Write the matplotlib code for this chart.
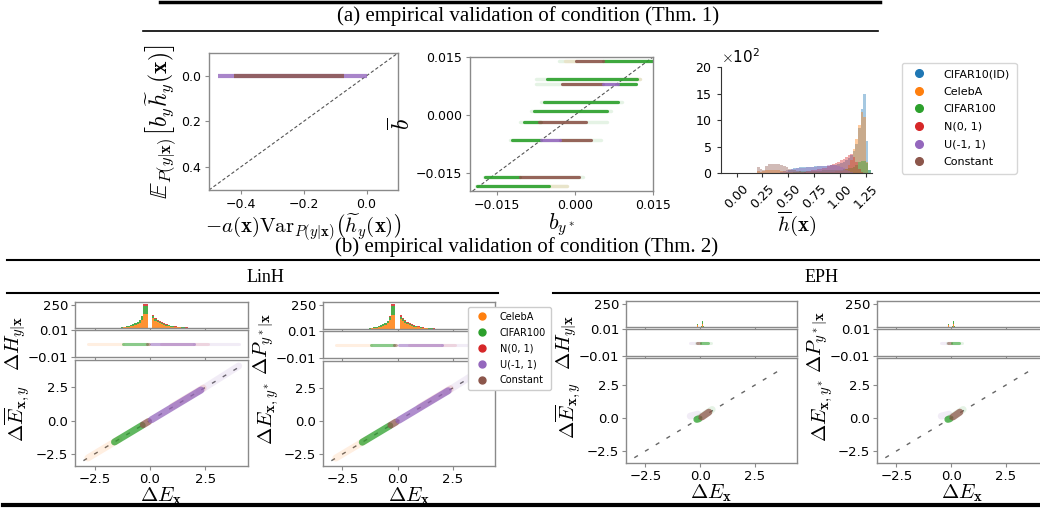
import numpy as np
import matplotlib
matplotlib.use('Agg')
import matplotlib.pyplot as plt
from matplotlib.lines import Line2D

plt.rcParams['mathtext.fontset'] = 'cm'
plt.rcParams['font.family'] = ['DejaVu Sans']

W, H = 1040, 508

# ---------------- data ----------------
datasets_a = ['CIFAR10(ID)', 'CelebA', 'CIFAR100', 'N(0, 1)', 'U(-1, 1)', 'Constant']
datasets_b = ['CelebA', 'CIFAR100', 'N(0, 1)', 'U(-1, 1)', 'Constant']
colors = ['#1f77b4', '#ff7f0e', '#2ca02c', '#d62728', '#9467bd', '#8c564b']
col = dict(zip(datasets_a, colors))

# (a1) bands at y=0: dataset, y, x0, x1
a1_bands = [('U(-1, 1)', 0.0, -0.47, 0.0), ('Constant', 0.0, -0.42, -0.07)]

# (a2) bands: dataset, y, x0, x1
a2_faint = [
    ('CIFAR100', 0.0139, -0.0030, 0.0149), ('CIFAR100', 0.0093, -0.0075, 0.0125),
    ('CIFAR100', 0.0081, -0.0075, 0.0117), ('CIFAR100', 0.0033, -0.0065, 0.0090),
    ('CIFAR100', 0.0009, -0.0085, 0.0070), ('CIFAR100', -0.0019, -0.0105, 0.0062),
    ('CIFAR100', -0.0065, -0.0125, 0.0050), ('CIFAR100', -0.0160, -0.0175, 0.0015),
    ('CIFAR100', -0.0184, -0.0190, -0.0015), ('CelebA', 0.0093, 0.0105, 0.0125),
    ('CelebA', -0.0184, -0.0050, -0.0015), ('CelebA', 0.0139, -0.0020, 0.0001),
]
a2_core = [
    ('CIFAR100', 0.0139, 0.0053, 0.0149), ('CIFAR100', 0.0093, -0.0054, 0.0120),
    ('CIFAR100', 0.0081, 0.0082, 0.0117), ('CIFAR100', 0.0033, -0.0060, 0.0082),
    ('CIFAR100', 0.0009, -0.0079, 0.0062), ('CIFAR100', -0.0019, -0.0099, -0.0066),
    ('CIFAR100', -0.0065, -0.0121, -0.0066), ('CIFAR100', -0.0160, -0.0173, -0.0105),
    ('CIFAR100', -0.0184, -0.0189, -0.0050),
    ('Constant', 0.0139, 0.0001, 0.0053), ('Constant', 0.0081, -0.0025, 0.0053),
    ('Constant', -0.0019, -0.0069, 0.0021), ('Constant', -0.0065, -0.0028, 0.0030),
    ('Constant', -0.0160, -0.0105, 0.0008),
    ('U(-1, 1)', 0.0081, 0.0053, 0.0082), ('U(-1, 1)', -0.0065, -0.0066, -0.0028),
]

# (a3) histogram of h-bar: bin edges 0.15..1.30 (width 0.025)
a3_edges = np.round(np.linspace(0.15, 1.30, 47), 4)
a3_counts = {
    'CIFAR10(ID)': [0]*13 + [20, 60, 80, 90, 100, 105, 110, 110, 115, 120, 120, 125, 125, 130, 130,
                             135, 140, 145, 150, 160, 170, 190, 210, 240, 280, 340, 420, 550, 850,
                             1200, 1500, 600, 50],
    'CelebA': [0, 0, 30, 20, 30, 50, 60, 60, 55, 50, 50, 45, 35,
               25, 20, 15, 10, 10, 10, 10, 10, 10, 10, 10, 10, 15, 15, 15, 20, 20, 20, 25, 30, 35, 45, 60,
               80, 150, 250, 450, 650, 900, 1150, 1050, 200, 0],
    'CIFAR100': [0]*16 + [20, 25, 30, 30, 35, 35, 40, 40, 40, 45, 45, 50, 50, 50, 55, 55, 60, 60, 65,
                          70, 75, 85, 100, 120, 150, 200, 220, 220, 180, 50],
    'N(0, 1)': [0]*20 + [20, 30, 40, 50, 60, 70, 80, 90, 100, 130, 150, 170, 190, 210, 240, 270, 300,
                         340, 350, 300, 200, 80, 20, 0, 0, 0],
    'U(-1, 1)': [0]*11 + [20, 30, 50, 60, 70, 80, 85, 90, 95, 100, 105, 110, 115, 120, 125, 130, 135,
                          140, 145, 150, 150, 145, 140, 120, 90, 60, 30, 10] + [0]*7,
    'Constant': [0, 0, 110, 70, 60, 130, 170, 175, 170, 165, 175, 160, 140, 110, 80, 60, 50, 40, 30,
                 20, 10, 5] + [0]*24,
}

# (b) LinH stacked histogram of dE_x (bins -1.6..2.6, width 0.1)
linh_edges = np.round(np.linspace(-1.6, 2.6, 43), 2)
linh_hist = {
    'CelebA': [1, 2, 3, 5, 7, 10, 14, 19, 25, 32, 45, 60, 90, 150, 150, 0, 0,
               105, 80, 62, 50, 40, 32, 26, 20, 16, 13, 10, 8, 6, 5, 4, 3, 2, 2, 1, 1, 1, 0, 0, 0, 0],
    'CIFAR100': [0, 1, 2, 3, 5, 7, 9, 12, 15, 18, 20, 25, 40, 95, 95, 0, 0,
                 25, 22, 18, 15, 13, 11, 9, 8, 6, 5, 4, 3, 3, 2, 2, 1, 1, 1, 1, 0, 0, 0, 0, 0, 0],
    'N(0, 1)': [0, 0, 0, 1, 1, 1, 1, 2, 2, 3, 3, 4, 5, 15, 15, 0, 0,
                15, 13, 11, 10, 9, 8, 7, 6, 5, 4, 4, 3, 3, 2, 2, 2, 1, 1, 1, 1, 1, 1, 0, 0, 0],
}
linh_strip_faint = [('CelebA', -2.8, -1.2), ('N(0, 1)', 0.5, 2.6), ('U(-1, 1)', 2.0, 4.0)]
linh_strip_core = [('CIFAR100', -1.2, -0.15), ('Constant', -0.15, -0.06), ('U(-1, 1)', 0.06, 2.0)]
# main scatter: dataset, x0, y0, x1, y1
linh_main_faint = [('CelebA', -2.8, -2.8, -1.4, -1.4), ('U(-1, 1)', 2.2, 2.2, 4.0, 4.1),
                   ('N(0, 1)', 1.0, 1.05, 2.4, 2.45)]
linh_main_core = [('CIFAR100', -1.6, -1.6, -0.35, -0.35), ('Constant', -0.3, -0.3, -0.06, -0.06),
                  ('U(-1, 1)', 0.06, 0.06, 2.3, 2.3)]
linh_diag = [-3.0, 4.2]

# (b) EPH
eph_edges = np.round(np.linspace(-0.2, 0.25, 10), 3)
eph_hist = {
    'CelebA': [0, 20, 0, 0, 0, 0, 30, 0, 0],
    'CIFAR100': [0, 10, 0, 0, 0, 15, 35, 10, 0],
    'N(0, 1)': [0, 5, 0, 0, 0, 0, 5, 0, 0],
}
eph_strip_faint = [('U(-1, 1)', -0.45, -0.15), ('CIFAR100', -0.2, 0.5)]
eph_strip_core = [('Constant', -0.12, -0.02), ('CIFAR100', 0.05, 0.35)]
eph_main_faint = [('U(-1, 1)', -0.45, 0.15, -0.1, 0.3), ('CIFAR100', -0.1, -0.05, 0.55, 0.65)]
eph_main_core = [('CIFAR100', -0.15, -0.1, -0.05, -0.05), ('Constant', 0.08, 0.08, 0.4, 0.45)]
eph_diag = [-3.0, 3.8]

# ---------------- figure ----------------
fig = plt.figure(figsize=(W / 100, H / 100), dpi=100)
SP = '#8a8a8a'


def add_ax(l, t, r, b):
    return fig.add_axes([l / W, 1 - b / H, (r - l) / W, (b - t) / H])


def style(ax, fs=9, pad=3):
    for s in ax.spines.values():
        s.set_color(SP)
        s.set_linewidth(1.0)
    ax.tick_params(labelsize=fs, color=SP, length=3, width=0.8, pad=pad)


def hline(x0, x1, y, lw):
    fig.add_artist(Line2D([x0 / W, x1 / W], [1 - y / H, 1 - y / H], color='black', lw=lw,
                          transform=fig.transFigure))


# titles and rules
fig.text(528 / W, 1 - 16 / H, '(a) empirical validation of condition (Thm. 1)', ha='center',
         va='center', fontsize=15, family='Liberation Serif')
fig.text(527 / W, 1 - 247 / H, '(b) empirical validation of condition (Thm. 2)', ha='center',
         va='center', fontsize=15, family='Liberation Serif')
fig.text(265 / W, 1 - 278 / H, 'LinH', ha='center', va='center', fontsize=13, family='Liberation Serif')
fig.text(822 / W, 1 - 278 / H, 'EPH', ha='center', va='center', fontsize=13, family='Liberation Serif')
hline(160, 880, 1.5, 2.5)
hline(143, 878, 31, 1.2)
hline(7, 1040, 260, 1.5)
hline(7, 498, 292.5, 1.5)
hline(553, 1040, 292.5, 1.5)
hline(3, 1040, 504.5, 3.0)

LABFS = 15

# ---- (a1)
ax1 = add_ax(209, 53, 398, 190)
style(ax1)
ax1.axline((0, 0), slope=-1, color='#555555', ls='--', lw=0.8, dashes=(3, 2))
for name, y, x0, x1 in a1_bands:
    ax1.plot([x0, x1], [y, y], color=col[name], lw=3, alpha=0.8, solid_capstyle='butt')
ax1.set_xlim(-0.5, 0.1)
ax1.set_ylim(0.5, -0.1)
ax1.set_xticks([-0.4, -0.2, 0.0])
ax1.set_yticks([0.0, 0.2, 0.4])
ax1.set_xticklabels(['\u22120.4', '\u22120.2', '0.0'])
ax1.set_xlabel(r'$-a(\mathbf{x})\mathrm{Var}_{P(y|\mathbf{x})}\left(\widetilde{h}_y(\mathbf{x})\right)$',
               fontsize=LABFS, labelpad=0)
ax1.set_ylabel(r'$\mathbb{E}_{P(y|\mathbf{x})}\left[b_y\widetilde{h}_y(\mathbf{x})\right]$',
               fontsize=17, labelpad=1)

# ---- (a2)
ax2 = add_ax(470, 57, 653, 191)
style(ax2)
ax2.axline((0, 0), slope=1, color='#555555', ls='--', lw=0.8, dashes=(3, 2))
for name, y, x0, x1 in a2_faint:
    ax2.plot([x0, x1], [y, y], color=col[name], lw=2.5, alpha=0.12, solid_capstyle='round')
for name, y, x0, x1 in a2_core:
    ax2.plot([x0, x1], [y, y], color=col[name], lw=2.3, alpha=0.9, solid_capstyle='round')
ax2.set_xlim(-0.0202, 0.015)
ax2.set_ylim(-0.0197, 0.015)
ax2.set_xticks([-0.015, 0.0, 0.015])
ax2.set_yticks([-0.015, 0.0, 0.015])
ax2.set_xticklabels(['\u22120.015', '0.000', '0.015'])
ax2.set_yticklabels(['\u22120.015', '0.000', '0.015'])
ax2.set_xlabel(r'$b_{y^*}$', fontsize=LABFS + 1, labelpad=-1)
ax2.set_ylabel(r'$\overline{b}$', fontsize=LABFS + 2, labelpad=0)

# ---- (a3)
ax3 = add_ax(721, 67, 872, 173)
for name in datasets_a:
    ax3.stairs(a3_counts[name], a3_edges, fill=True, color=col[name], alpha=0.4, lw=0)
for s in ['top', 'right']:
    ax3.spines[s].set_visible(False)
for s in ['left', 'bottom']:
    ax3.spines[s].set_color('#333333')
ax3.tick_params(labelsize=9, length=3, color='#333333')
ax3.set_xlim(-0.15, 1.31)
ax3.set_ylim(0, 2000)
ax3.set_yticks([0, 500, 1000, 1500, 2000])
ax3.set_xticks([0.0, 0.25, 0.5, 0.75, 1.0, 1.25])
ax3.ticklabel_format(axis='y', style='sci', scilimits=(2, 2), useMathText=True)
ax3.yaxis.get_offset_text().set_fontsize(11)
plt.setp(ax3.get_xticklabels(), rotation=45, ha='center', rotation_mode='default')
ax3.set_xlabel(r'$\overline{h}(\mathbf{x})$', fontsize=LABFS, labelpad=-1)

handles_a = [Line2D([], [], marker='o', ls='', color=col[n], markersize=5.5) for n in datasets_a]
fig.legend(handles_a, datasets_a, loc='upper left', bbox_to_anchor=(896 / W, 1 - 57 / H),
           fontsize=8, frameon=True, edgecolor='#cccccc', handletextpad=1.2, borderpad=0.6,
           labelspacing=0.68)


# ---- (b)
def b_panel(l, r, yh, ys, ym, hist_edges, hist, strip_faint, strip_core, main_faint, main_core,
            diag, ylab_s, ylab_m):
    axh = add_ax(l, yh[0], r, yh[1])
    axs = add_ax(l, ys[0], r, ys[1])
    axm = add_ax(l, ym[0], r, ym[1])
    base = np.zeros(len(hist_edges) - 1)
    for name in ['CelebA', 'CIFAR100', 'N(0, 1)']:
        vals = np.asarray(hist[name], dtype=float)
        axh.stairs(base + vals, hist_edges, baseline=base, fill=True, color=col[name], alpha=0.85, lw=0)
        base = base + vals
    for name, x0, x1 in strip_faint:
        axs.plot([x0, x1], [0, 0], color=col[name], lw=2.2, alpha=0.12, solid_capstyle='round')
    for name, x0, x1 in strip_core:
        axs.plot([x0, x1], [0, 0], color=col[name], lw=2.2, alpha=0.55, solid_capstyle='round')
    axm.plot(diag, diag, color='#666666', lw=1.0, dashes=(3, 6))
    for name, x0, y0, x1, y1 in main_faint:
        axm.plot([x0, x1], [y0, y1], color=col[name], lw=5, alpha=0.12, solid_capstyle='round')
    for name, x0, y0, x1, y1 in main_core:
        axm.plot([x0, x1], [y0, y1], color=col[name], lw=5, alpha=0.75, solid_capstyle='round')
    for ax in (axh, axs, axm):
        style(ax, fs=9.5, pad=2)
        ax.set_xlim(-3.38, 4.42)
        ax.set_xticks([-2.5, 0.0, 2.5])
    axh.set_xticklabels([])
    axs.set_xticklabels([])
    axm.set_xticklabels(['\u22122.5', '0.0', '2.5'])
    axh.set_ylim(0, 285)
    axh.set_yticks([250])
    axs.set_ylim(-0.01, 0.01)
    axs.set_yticks([-0.01, 0.01])
    axs.set_yticklabels(['\u22120.01', '0.01'])
    axm.set_ylim(-3.4, 4.55)
    axm.set_yticks([-2.5, 0.0, 2.5])
    axm.set_yticklabels(['\u22122.5', '0.0', '2.5'])
    axs.set_ylabel(ylab_s, fontsize=LABFS, labelpad=0)
    axm.set_ylabel(ylab_m, fontsize=LABFS, labelpad=2)
    axm.set_xlabel(r'$\Delta E_{\mathbf{x}}$', fontsize=LABFS, labelpad=0)
    return axh, axs, axm


b_panel(75, 248, (302, 328), (330, 357), (360, 466), linh_edges, linh_hist, linh_strip_faint,
        linh_strip_core, linh_main_faint, linh_main_core, linh_diag,
        r'$\Delta H_{y|\mathbf{x}}$', r'$\Delta \overline{E}_{\mathbf{x},y}$')
b_panel(323, 495, (302, 329), (331, 358), (361, 466), linh_edges, linh_hist, linh_strip_faint,
        linh_strip_core, linh_main_faint, linh_main_core, linh_diag,
        r'$\Delta P_{y^*|\mathbf{x}}$', r'$\Delta E_{\mathbf{x},y^*}$')
b_panel(626, 797, (301, 327), (329, 356), (358, 463), eph_edges, eph_hist, eph_strip_faint,
        eph_strip_core, eph_main_faint, eph_main_core, eph_diag,
        r'$\Delta H_{y|\mathbf{x}}$', r'$\Delta \overline{E}_{\mathbf{x},y}$')
b_panel(877, 1048, (301, 327), (329, 356), (358, 463), eph_edges, eph_hist, eph_strip_faint,
        eph_strip_core, eph_main_faint, eph_main_core, eph_diag,
        r'$\Delta P_{y^*|\mathbf{x}}$', r'$\Delta E_{\mathbf{x},y^*}$')

handles_b = [Line2D([], [], marker='o', ls='', color=col[n], markersize=5) for n in datasets_b]
fig.legend(handles_b, datasets_b, loc='upper left', bbox_to_anchor=(463 / W, 1 - 302 / H),
           fontsize=7, frameon=True, edgecolor='#cccccc', handletextpad=0.8, borderpad=0.5,
           labelspacing=0.6, framealpha=1.0)

fig.savefig('out.png', dpi=100)
